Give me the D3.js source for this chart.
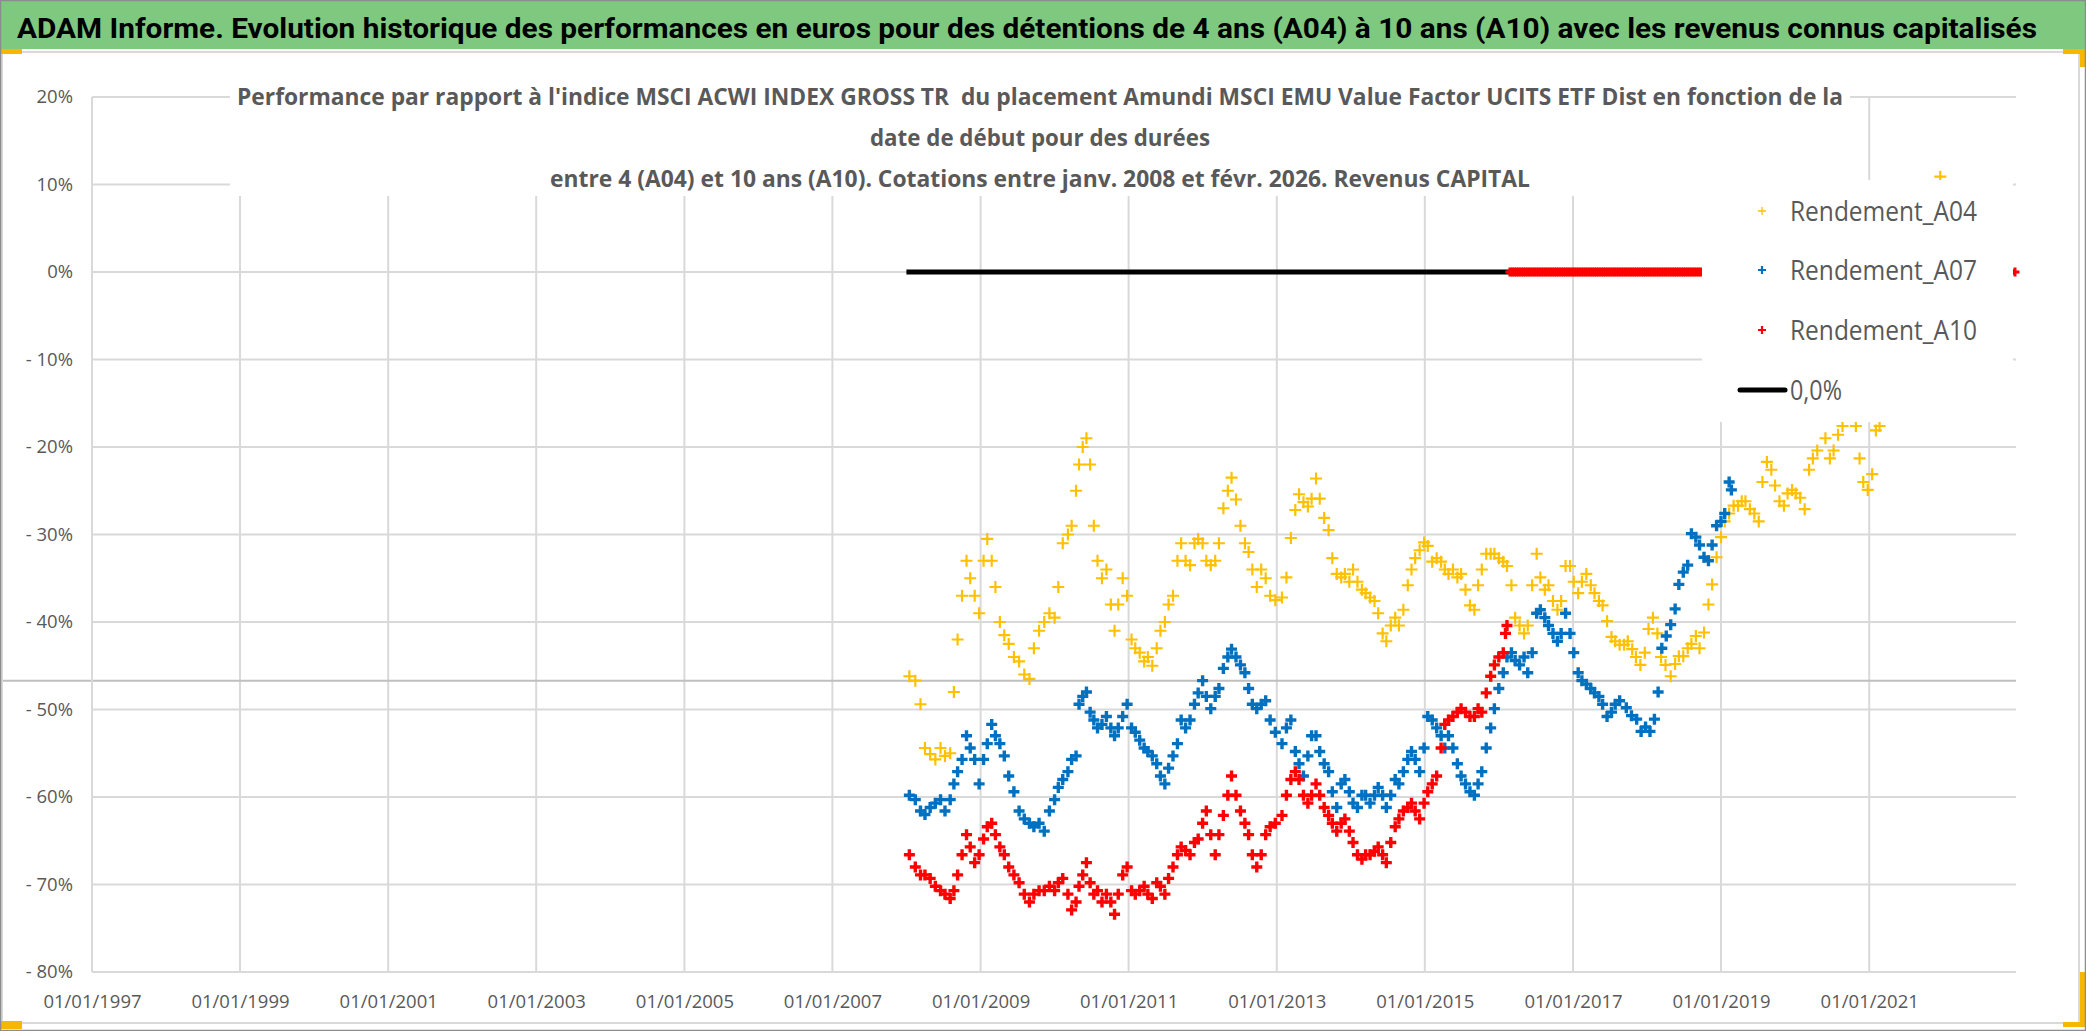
<!DOCTYPE html>
<html>
<head>
<meta charset="utf-8">
<script src="https://cdn.jsdelivr.net/npm/d3@7"></script>
<style>
body { margin: 0; background: #fff; }
svg text { font-family: "Open Sans", "Noto Sans", sans-serif; }
</style>
</head>
<body>
<script>
const W = 2086, H = 1031;

// --- data (decimal year, % vs index) ---
const a04 = [
 [2008.04,-46.2],[2008.12,-46.7],[2008.19,-49.4],[2008.25,-54.4],[2008.32,-55.1],[2008.39,-55.7],[2008.46,-54.4],[2008.52,-55.3],
 [2008.59,-55],[2008.64,-48],[2008.69,-42],[2008.75,-37],[2008.81,-33],[2008.86,-35],[2008.92,-37],[2008.98,-39],
 [2009.04,-33],[2009.09,-30.5],[2009.15,-33],[2009.20,-36],[2009.26,-40],[2009.32,-41.5],[2009.38,-42.5],[2009.45,-44],
 [2009.52,-44.5],[2009.59,-46],[2009.66,-46.5],[2009.72,-43],[2009.79,-41],[2009.86,-40],[2009.93,-39],[2010.00,-39.5],
 [2010.05,-36],[2010.11,-31],[2010.18,-30],[2010.23,-29],[2010.29,-25],[2010.33,-22],[2010.38,-20],[2010.43,-19],
 [2010.48,-22],[2010.53,-29],[2010.58,-33],[2010.64,-35],[2010.70,-34],[2010.76,-38],[2010.81,-41],[2010.86,-38],
 [2010.92,-35],[2010.98,-37],[2011.04,-42],[2011.09,-43],[2011.15,-43.5],[2011.21,-44.5],[2011.26,-44],[2011.32,-45],
 [2011.38,-43],[2011.43,-41],[2011.49,-40],[2011.54,-38],[2011.60,-37],[2011.66,-33],[2011.71,-31],[2011.77,-33],
 [2011.83,-33.5],[2011.89,-31],[2011.94,-30.5],[2012.00,-31],[2012.05,-33],[2012.11,-33.5],[2012.17,-33],[2012.22,-31],
 [2012.28,-27],[2012.34,-25],[2012.39,-23.5],[2012.45,-26],[2012.51,-29],[2012.57,-31],[2012.62,-32],[2012.67,-34],
 [2012.73,-36],[2012.79,-34],[2012.85,-35],[2012.91,-37],[2012.98,-37.5],
 [2013.07,-37.2],[2013.13,-34.9],[2013.19,-30.4],[2013.25,-27.2],[2013.30,-25.4],[2013.36,-26.3],[2013.42,-26.8],[2013.47,-25.9],
 [2013.53,-23.6],[2013.58,-25.9],[2013.64,-28.1],[2013.70,-29.5],[2013.75,-32.7],[2013.81,-34.5],[2013.87,-34.9],[2013.92,-34.5],
 [2013.98,-35.4],[2014.03,-34],[2014.09,-35.4],[2014.15,-36.3],[2014.20,-36.7],[2014.26,-37.2],[2014.32,-37.6],[2014.37,-39],
 [2014.43,-41.3],[2014.48,-42.2],[2014.54,-40.4],[2014.60,-39.5],[2014.65,-40.4],[2014.71,-38.6],[2014.77,-35.8],[2014.82,-34],
 [2014.87,-32.7],[2014.93,-31.8],[2014.99,-30.9],[2015.04,-31.3],[2015.10,-33.1],[2015.16,-32.7],[2015.22,-33.1],[2015.27,-34],
 [2015.32,-34.5],[2015.38,-34],[2015.44,-34.9],[2015.49,-34.5],[2015.55,-36.3],[2015.61,-38.1],[2015.67,-38.6],[2015.72,-35.8],
 [2015.77,-34],[2015.83,-32.2],[2015.89,-32.2],[2015.94,-32.2],[2016.00,-32.7],[2016.06,-33.1],[2016.11,-33.6],[2016.17,-35.8],
 [2016.22,-39.5],[2016.28,-40.4],[2016.34,-41.3],[2016.39,-40.4],[2016.45,-35.8],[2016.51,-32.2],[2016.56,-34.9],[2016.62,-36.3],
 [2016.67,-35.8],[2016.73,-37.6],[2016.79,-38.6],[2016.84,-37.6],[2016.90,-33.6],[2016.96,-33.6],[2017.01,-35.4],[2017.07,-36.7],
 [2017.12,-35.4],[2017.18,-34.5],[2017.24,-35.8],[2017.29,-36.7],[2017.35,-37.6],[2017.40,-38.1],[2017.46,-39.9],[2017.52,-41.7],
 [2017.57,-42.2],[2017.63,-42.6],[2017.69,-42.6],[2017.74,-42.2],[2017.80,-43.1],[2017.85,-44],[2017.91,-44.9],[2017.97,-43.5],
 [2018.02,-40.8],[2018.08,-39.5],[2018.14,-41.3],[2018.19,-44],[2018.25,-44.9],
 [2018.32,-46.2],[2018.38,-44.8],[2018.43,-43.9],[2018.49,-43.9],[2018.55,-43],[2018.60,-42.5],[2018.66,-41.6],[2018.71,-43],
 [2018.77,-41.2],[2018.83,-38],[2018.88,-35.7],[2018.94,-32.6],[2019.00,-30.3],[2019.05,-28.5],[2019.11,-27.6],[2019.17,-26.7],
 [2019.23,-26.7],[2019.28,-26.2],[2019.33,-26.2],[2019.39,-27.1],[2019.45,-27.6],[2019.51,-28.5],[2019.56,-24],[2019.62,-21.7],
 [2019.68,-22.6],[2019.73,-24.4],[2019.79,-26.2],[2019.85,-26.7],[2019.90,-25.3],[2019.96,-24.9],[2020.01,-25.3],[2020.07,-25.8],
 [2020.13,-27.1],[2020.19,-22.6],[2020.24,-21.3],[2020.30,-20.4],[2020.41,-19],[2020.47,-21.3],[2020.52,-20.4],[2020.58,-18.6],
 [2020.64,-17.6],[2020.82,-17.6],[2020.87,-21.3],[2020.92,-24],[2020.98,-24.9],[2021.04,-23.1],[2021.09,-18.1],[2021.14,-17.6],
 [2021.96,10.9]
];

const a07 = [
 [2008.04,-59.8],[2008.12,-60.3],[2008.19,-61.6],[2008.25,-62],[2008.32,-61.2],[2008.39,-60.7],[2008.46,-60.3],[2008.52,-61.6],
 [2008.59,-60.3],[2008.64,-58.5],[2008.69,-57.1],[2008.75,-55.7],[2008.81,-53],[2008.86,-54.4],[2008.92,-55.7],[2008.98,-58.5],
 [2009.04,-55.7],[2009.09,-53.9],[2009.15,-51.7],[2009.20,-53],[2009.26,-53.9],[2009.32,-55.3],[2009.38,-57.6],[2009.45,-59.4],
 [2009.52,-61.6],[2009.59,-62.5],[2009.66,-63],[2009.72,-63.4],[2009.79,-63],[2009.86,-63.9],[2009.93,-61.6],[2010.00,-60.3],
 [2010.05,-58.9],[2010.11,-58],[2010.18,-57.1],[2010.23,-55.7],[2010.29,-55.3],[2010.33,-49.4],[2010.38,-48.5],[2010.43,-48],
 [2010.48,-50.3],[2010.53,-51.2],[2010.58,-52.1],[2010.64,-51.7],[2010.70,-50.8],[2010.76,-52.1],[2010.81,-53],[2010.86,-52.1],
 [2010.92,-50.8],[2010.98,-49.4],[2011.04,-52.1],[2011.09,-52.6],[2011.15,-53.5],[2011.21,-54.4],[2011.26,-54.8],[2011.32,-55.3],
 [2011.38,-56.2],[2011.43,-57.6],[2011.49,-58.5],[2011.54,-56.7],[2011.60,-55.3],[2011.66,-53.9],[2011.71,-51.2],[2011.77,-52.1],
 [2011.83,-51.2],[2011.89,-49.4],[2011.94,-48.1],[2012.00,-46.7],[2012.05,-48.5],[2012.11,-49.9],[2012.17,-48.5],[2012.22,-47.6],
 [2012.28,-45.3],[2012.34,-44],[2012.39,-43.1],[2012.45,-44],[2012.51,-44.9],[2012.57,-45.8],[2012.62,-47.6],[2012.67,-49.4],
 [2012.73,-49.9],[2012.79,-49.4],[2012.85,-49],[2012.91,-51.2],[2012.98,-52.6],
 [2013.07,-53.9],[2013.13,-52.1],[2013.19,-51.2],[2013.25,-54.8],[2013.30,-56.2],[2013.36,-57.6],[2013.42,-55.3],[2013.47,-53],
 [2013.53,-53],[2013.58,-54.8],[2013.64,-56.2],[2013.70,-57.1],[2013.75,-59.4],[2013.81,-61.2],[2013.87,-58.5],[2013.92,-58],
 [2013.98,-59.4],[2014.03,-60.7],[2014.09,-61.2],[2014.15,-59.8],[2014.20,-59.8],[2014.26,-60.7],[2014.32,-59.8],[2014.37,-58.9],
 [2014.43,-59.8],[2014.48,-61.2],[2014.54,-59.8],[2014.60,-58],[2014.65,-58.5],[2014.71,-57.1],[2014.77,-55.7],[2014.82,-54.8],
 [2014.87,-55.7],[2014.93,-57.1],[2014.99,-54.4],[2015.04,-50.8],[2015.10,-51.2],[2015.16,-52.1],[2015.22,-53],[2015.27,-54.4],
 [2015.32,-53],[2015.38,-54.4],[2015.44,-56.2],[2015.49,-57.6],[2015.55,-58.5],[2015.61,-59.4],[2015.67,-59.8],[2015.72,-58.5],
 [2015.77,-57.1],[2015.83,-54.4],[2015.89,-52.1],[2015.94,-49.9],[2016.00,-47.6],[2016.06,-45.8],[2016.11,-44],[2016.17,-43.5],
 [2016.22,-44.4],[2016.28,-44.9],[2016.34,-44],[2016.39,-45.8],[2016.45,-43.5],[2016.51,-39],[2016.56,-38.6],[2016.62,-39.5],
 [2016.67,-40.4],[2016.73,-41.3],[2016.79,-42.2],[2016.84,-41.3],[2016.90,-39],[2016.96,-41.3],[2017.01,-43.5],[2017.07,-45.8],
 [2017.12,-46.7],[2017.18,-47.1],[2017.24,-47.6],[2017.29,-48.1],[2017.35,-48.5],[2017.40,-49.4],[2017.46,-50.8],[2017.52,-50.3],
 [2017.57,-49.4],[2017.63,-49],
 [2017.72,-49.8],[2017.79,-50.7],[2017.86,-51.1],[2017.92,-52.5],[2017.98,-52],[2018.04,-52.5],[2018.10,-51.1],[2018.15,-48],
 [2018.20,-43],[2018.26,-41.6],[2018.32,-40.3],[2018.38,-38.5],[2018.43,-35.7],[2018.49,-34.3],[2018.55,-33.5],[2018.60,-29.9],
 [2018.66,-30.3],[2018.71,-31.2],[2018.77,-32.6],[2018.83,-33],[2018.88,-31.2],[2018.94,-29],[2019.00,-28.5],[2019.05,-27.6],
 [2019.11,-24],[2019.14,-24.9]
];

const a10 = [
 [2008.04,-66.6],[2008.12,-68],[2008.19,-68.9],[2008.25,-68.9],[2008.32,-69.3],[2008.39,-70.2],[2008.46,-70.7],[2008.52,-71.1],
 [2008.59,-71.6],[2008.64,-70.7],[2008.69,-68.9],[2008.75,-66.6],[2008.81,-64.3],[2008.86,-65.7],[2008.92,-67.5],[2008.98,-66.6],
 [2009.04,-64.8],[2009.09,-63.4],[2009.15,-63],[2009.20,-64.3],[2009.26,-65.7],[2009.32,-66.6],[2009.38,-68],[2009.45,-68.9],
 [2009.52,-69.8],[2009.59,-71.1],[2009.66,-72],[2009.72,-71.1],[2009.79,-70.7],[2009.86,-70.7],[2009.93,-70.2],[2010.00,-70.7],
 [2010.05,-69.8],[2010.11,-69.3],[2010.18,-71.1],[2010.23,-72.9],[2010.29,-72],[2010.33,-70.2],[2010.38,-68.9],[2010.43,-67.5],
 [2010.48,-69.8],[2010.53,-71.1],[2010.58,-70.7],[2010.64,-72],[2010.70,-71.1],[2010.76,-72],[2010.81,-73.4],[2010.86,-71.1],
 [2010.92,-68.9],[2010.98,-68],[2011.04,-70.7],[2011.09,-71.1],[2011.15,-70.7],[2011.21,-70.2],[2011.26,-71.1],[2011.32,-71.6],
 [2011.38,-69.8],[2011.43,-70.2],[2011.49,-71.1],[2011.54,-69.3],[2011.60,-68],[2011.66,-66.6],[2011.71,-65.7],[2011.77,-66.1],
 [2011.83,-66.6],[2011.89,-65.2],[2011.94,-64.8],[2012.00,-63],[2012.05,-61.6],[2012.11,-64.3],[2012.17,-66.6],[2012.22,-64.3],
 [2012.28,-62.1],[2012.34,-59.8],[2012.39,-57.6],[2012.45,-59.8],[2012.51,-61.6],[2012.57,-63],[2012.62,-64.3],[2012.67,-66.6],
 [2012.73,-68],[2012.79,-66.6],[2012.85,-64.3],[2012.91,-63.4],[2012.98,-63],
 [2013.07,-62.1],[2013.13,-59.8],[2013.19,-58],[2013.25,-57.1],[2013.30,-58],[2013.36,-59.8],[2013.42,-60.7],[2013.47,-59.8],
 [2013.53,-58.5],[2013.58,-59.8],[2013.64,-61.2],[2013.70,-62.1],[2013.75,-63],[2013.81,-63.9],[2013.87,-63],[2013.92,-62.5],
 [2013.98,-63.9],[2014.03,-65.2],[2014.09,-66.6],[2014.15,-67.1],[2014.20,-66.6],[2014.26,-66.6],[2014.32,-66.2],[2014.37,-65.7],
 [2014.43,-66.6],[2014.48,-67.5],[2014.54,-65.2],[2014.60,-63.4],[2014.65,-62.5],[2014.71,-61.6],[2014.77,-61.2],[2014.82,-60.7],
 [2014.87,-61.6],[2014.93,-62.5],[2014.99,-60.7],[2015.04,-59.4],[2015.10,-58.5],[2015.16,-57.6],[2015.22,-54.4],[2015.27,-51.7],
 [2015.32,-51.2],[2015.38,-50.8],[2015.44,-50.3],[2015.49,-49.9],[2015.55,-50.3],[2015.61,-50.8],[2015.67,-50.8],[2015.72,-49.9],
 [2015.77,-50.3],[2015.83,-48.1],[2015.89,-46.2],[2015.94,-44.9],[2016.00,-44],[2016.06,-43.5],[2016.09,-41.3],[2016.11,-40.4]
];

// A10 values sitting on 0% after the last 10-year window (dense where visible, under the legend beyond)
const a10ZeroYears = [
 2016.15,2016.18,2016.21,2016.24,2016.27,2016.30,2016.33,2016.36,2016.39,2016.42,2016.45,2016.48,2016.51,2016.54,
 2016.57,2016.60,2016.63,2016.66,2016.69,2016.72,2016.75,2016.78,2016.81,2016.84,2016.87,2016.90,2016.93,2016.96,
 2016.99,2017.02,2017.05,2017.08,2017.11,2017.14,2017.17,2017.20,2017.23,2017.26,2017.29,2017.32,2017.35,2017.38,
 2017.41,2017.44,2017.47,2017.50,2017.53,2017.56,2017.59,2017.62,2017.65,2017.68,2017.71,2017.74,2017.77,2017.80,
 2017.83,2017.86,2017.89,2017.92,2017.95,2017.98,2018.01,2018.04,2018.07,2018.10,2018.13,2018.16,2018.19,2018.22,
 2018.25,2018.28,2018.31,2018.34,2018.37,2018.40,2018.43,2018.46,2018.49,2018.52,2018.55,2018.58,2018.61,2018.64,
 2018.67,2018.70,2018.73,2019.0,2019.5,2020.0,2020.5,2021.0,2021.5,2022.0,2022.5,2022.97
];
const zeroLine = [[2008.0, 0], [2022.97, 0]];
const refLine = -46.7;

const yTicks = [20, 10, 0, -10, -20, -30, -40, -50, -60, -70, -80];
const xTickYears = [1997, 1999, 2001, 2003, 2005, 2007, 2009, 2011, 2013, 2015, 2017, 2019, 2021];
const legendLabels = ['Rendement_A04', 'Rendement_A07', 'Rendement_A10', '0,0%'];

const title = 'ADAM Informe. Evolution historique des performances en euros pour des détentions de 4 ans (A04) à 10 ans (A10) avec les revenus connus capitalisés';
const subtitle = [
 "Performance par rapport à l'indice MSCI ACWI INDEX GROSS TR  du placement Amundi MSCI EMU Value Factor UCITS ETF Dist en fonction de la",
 'date de début pour des durées',
 'entre 4 (A04) et 10 ans (A10). Cotations entre janv. 2008 et févr. 2026. Revenus CAPITAL'
];

const colA04 = '#FFC000', colA07 = '#0070C0', colA10 = '#FF0000';
const grid = '#d9d9d9', txt = '#595959';

const toDate = (t) => {
  const yr = Math.floor(t);
  const s = Date.UTC(yr, 0, 1), e = Date.UTC(yr + 1, 0, 1);
  return new Date(s + (t - yr) * (e - s));
};

const plotLeft = 92, plotRight = 2016, plotTop = 97, plotBottom = 972;

const x = d3.scaleUtc()
  .domain([new Date(Date.UTC(1997, 0, 1)), new Date(Date.UTC(2022, 11, 26))])
  .range([plotLeft, plotRight]);
const y = d3.scaleLinear().domain([-80, 20]).range([plotBottom, plotTop]);

const svg = d3.select('body').append('svg')
  .attr('width', W).attr('height', H);

svg.append('rect').attr('width', W).attr('height', H).attr('fill', '#fff');

// green header band
svg.append('rect').attr('x', 0).attr('y', 0).attr('width', W).attr('height', 49)
  .attr('fill', '#7ec97f');
svg.append('text')
  .attr('x', 17).attr('y', 38)
  .attr('font-size', 28).attr('font-weight', 'bold').attr('fill', '#000')
  .style('font-family', 'Roboto, "Noto Sans", sans-serif')
  .attr('textLength', 2020).attr('lengthAdjust', 'spacingAndGlyphs')
  .text(title);

// chart frame
svg.append('rect').attr('x', 2).attr('y', 52).attr('width', 2077).attr('height', 971)
  .attr('fill', '#fff').attr('stroke', grid).attr('stroke-width', 2);

// gridlines
svg.append('g').selectAll('line').data(yTicks).enter().append('line')
  .attr('x1', plotLeft).attr('x2', plotRight)
  .attr('y1', d => y(d)).attr('y2', d => y(d))
  .attr('stroke', grid).attr('stroke-width', 2);
svg.append('g').selectAll('line').data(xTickYears).enter().append('line')
  .attr('x1', d => x(toDate(d))).attr('x2', d => x(toDate(d)))
  .attr('y1', plotTop).attr('y2', plotBottom)
  .attr('stroke', grid).attr('stroke-width', 2);

// grey reference line
svg.append('line')
  .attr('x1', 3).attr('x2', plotRight)
  .attr('y1', y(refLine)).attr('y2', y(refLine))
  .attr('stroke', '#bfbfbf').attr('stroke-width', 2);

// subtitle block (white background hides the grid)
svg.append('rect').attr('x', 230).attr('y', 70).attr('width', 1620).attr('height', 126)
  .attr('fill', '#fff');
const subWidths = [1606, 340, 980];
const subY = [105, 146, 187];
svg.append('g').selectAll('text').data(subtitle).enter().append('text')
  .attr('x', 1040).attr('y', (d, i) => subY[i])
  .attr('text-anchor', 'middle')
  .attr('font-size', 22.5).attr('font-weight', 'bold').attr('fill', txt)
  .attr('textLength', (d, i) => subWidths[i]).attr('lengthAdjust', 'spacingAndGlyphs')
  .style('white-space', 'pre')
  .text(d => d);

// 0,0% line
const line = d3.line().x(d => x(toDate(d[0]))).y(d => y(d[1]));
svg.append('path').attr('d', line(zeroLine))
  .attr('fill', 'none').attr('stroke', '#000').attr('stroke-width', 5);

// plus markers
const plus = (s) => `M${-s},0H${s}M0,${-s}V${s}`;
function drawSeries(data, color, size, width) {
  svg.append('g').selectAll('path').data(data).enter().append('path')
    .attr('d', plus(size))
    .attr('transform', d => `translate(${x(toDate(d[0]))},${y(d[1])})`)
    .attr('fill', 'none').attr('stroke', color).attr('stroke-width', width);
}
drawSeries(a04, colA04, 6, 2.2);
drawSeries(a07, colA07, 5.5, 3.4);
drawSeries(a10, colA10, 5.5, 3.4);
drawSeries(a10ZeroYears.map(t => [t, 0]), colA10, 4.5, 3);

// legend
svg.append('rect').attr('x', 1702).attr('y', 180).attr('width', 311).attr('height', 242)
  .attr('fill', '#fff');
const legY = [211, 270, 330, 390];
const legCol = [colA04, colA07, colA10];
const legW = [187, 187, 187, 52];
const leg = svg.append('g');
legCol.forEach((c, i) => {
  leg.append('path').attr('d', plus(4))
    .attr('transform', `translate(1762,${legY[i]})`)
    .attr('fill', 'none').attr('stroke', c).attr('stroke-width', i === 0 ? 1.3 : 2.2);
});
leg.append('line').attr('x1', 1740).attr('x2', 1785).attr('y1', legY[3]).attr('y2', legY[3])
  .attr('stroke', '#000').attr('stroke-width', 5).attr('stroke-linecap', 'round');
leg.selectAll('text').data(legendLabels).enter().append('text')
  .attr('x', 1790).attr('y', (d, i) => legY[i]).attr('dy', '0.36em')
  .attr('font-size', 27).attr('fill', txt)
  .attr('textLength', (d, i) => legW[i]).attr('lengthAdjust', 'spacingAndGlyphs')
  .text(d => d);

// axes labels
const fmtY = d => d > 0 ? d + '%' : d === 0 ? '0%' : '- ' + (-d) + '%';
const yAxis = svg.append('g').attr('transform', `translate(${plotLeft},0)`)
  .call(d3.axisLeft(y).tickValues(yTicks).tickFormat(fmtY).tickSize(0).tickPadding(19));
const xAxis = svg.append('g').attr('transform', `translate(0,${plotBottom})`)
  .call(d3.axisBottom(x).tickValues(xTickYears.map(toDate))
    .tickFormat(d3.utcFormat('%d/%m/%Y')).tickSize(0).tickPadding(23));
[yAxis, xAxis].forEach(a => {
  a.select('.domain').remove();
  a.selectAll('text').attr('font-size', 18.5).attr('fill', txt)
    .style('font-family', '"Open Sans", "Noto Sans", sans-serif');
});
// y axis line on top of the grid
svg.append('line').attr('x1', plotLeft).attr('x2', plotLeft).attr('y1', plotTop).attr('y2', plotBottom)
  .attr('stroke', grid).attr('stroke-width', 2);

// selection handles and outer border
const handles = [[0, 49, 22, 5], [2063, 49, 22, 5], [2080, 49, 5, 18], [2080, 972, 5, 55], [2063, 1022, 22, 5], [0, 1021, 22, 8]];
svg.append('g').selectAll('rect').data(handles).enter().append('rect')
  .attr('x', d => d[0]).attr('y', d => d[1]).attr('width', d => d[2]).attr('height', d => d[3])
  .attr('fill', '#f5b700');
svg.append('rect').attr('x', 0.5).attr('y', 0.5).attr('width', W - 1).attr('height', H - 1)
  .attr('fill', 'none').attr('stroke', '#8c8c8c').attr('stroke-width', 1.5);
</script>
</body>
</html>
